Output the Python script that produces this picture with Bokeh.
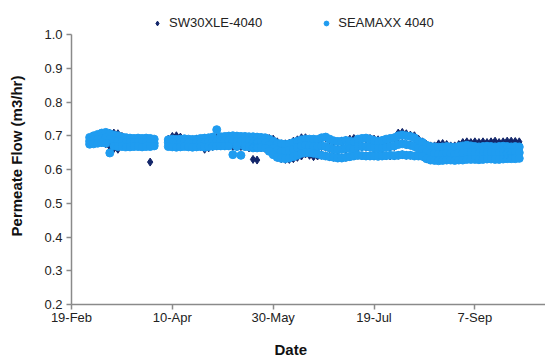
import pandas as pd
from bokeh.plotting import figure
from bokeh.models import (ColumnDataSource, FixedTicker, Legend, LegendItem,
                          NumeralTickFormatter, Range1d, Title)
from bokeh.embed import file_html
from bokeh.resources import INLINE

# ---------------- data ----------------
start_date = "2011-02-19"
# days after 19-Feb of each sampled reading
days = [9, 11, 13, 15, 17, 19, 21, 23, 25, 27, 29, 31, 33, 35, 37, 39, 41,
        48, 50, 52, 54, 56, 58, 60, 62, 64, 66, 68, 70, 72, 74, 76,
        78, 80, 82, 84, 86, 88, 90, 92, 94, 96, 98, 100, 102, 104, 106,
        108, 110, 112, 114, 116, 118, 120, 122, 124, 126, 128, 130, 132, 134, 136,
        138, 140, 142, 144, 146, 148, 150, 152, 154, 156, 158, 160, 162, 164, 166,
        168, 170, 172, 174, 176, 178, 180, 182, 184, 186, 188, 190, 192, 194, 196,
        198, 200, 202, 204, 206, 208, 210, 212, 214, 216, 218, 220, 222]

# SEAMAXX 4040: upper, middle and lower readings of each day
seamaxx_hi = [0.695, 0.700, 0.704, 0.708, 0.710, 0.706, 0.702, 0.700, 0.696, 0.694, 0.693, 0.692, 0.693, 0.692, 0.693, 0.692, 0.690,
              0.688, 0.690, 0.689, 0.690, 0.691, 0.690, 0.689, 0.690, 0.692, 0.693, 0.694, 0.696, 0.718, 0.697, 0.698,
              0.699, 0.700, 0.699, 0.698, 0.698, 0.697, 0.697, 0.696, 0.695, 0.694, 0.690, 0.684, 0.678, 0.676, 0.675,
              0.676, 0.680, 0.684, 0.688, 0.690, 0.690, 0.690, 0.689, 0.694, 0.696, 0.690, 0.685, 0.683, 0.684, 0.686,
              0.684, 0.682, 0.690, 0.692, 0.693, 0.690, 0.686, 0.684, 0.686, 0.690, 0.692, 0.694, 0.700, 0.702, 0.700,
              0.698, 0.694, 0.684, 0.680, 0.672, 0.668, 0.667, 0.666, 0.667, 0.668, 0.667, 0.666, 0.668, 0.670, 0.672,
              0.670, 0.668, 0.667, 0.668, 0.669, 0.668, 0.667, 0.668, 0.669, 0.668, 0.667, 0.668, 0.667]
seamaxx_mid = [0.684, 0.688, 0.690, 0.692, 0.694, 0.690, 0.686, 0.684, 0.682, 0.681, 0.680, 0.680, 0.681, 0.680, 0.680, 0.679, 0.678,
               0.680, 0.680, 0.678, 0.679, 0.680, 0.679, 0.678, 0.679, 0.680, 0.680, 0.682, 0.684, 0.684, 0.685, 0.686,
               0.686, 0.684, 0.684, 0.682, 0.682, 0.682, 0.681, 0.680, 0.680, 0.679, 0.672, 0.664, 0.656, 0.654, 0.654,
               0.656, 0.660, 0.665, 0.670, 0.672, 0.670, 0.668, 0.668, 0.670, 0.668, 0.664, 0.660, 0.658, 0.660, 0.662,
               0.662, 0.660, 0.668, 0.668, 0.668, 0.666, 0.664, 0.662, 0.664, 0.666, 0.668, 0.670, 0.674, 0.676, 0.674,
               0.672, 0.668, 0.662, 0.660, 0.652, 0.648, 0.647, 0.646, 0.646, 0.648, 0.647, 0.646, 0.648, 0.650, 0.652,
               0.650, 0.650, 0.648, 0.649, 0.650, 0.650, 0.649, 0.650, 0.650, 0.650, 0.650, 0.650, 0.650]
seamaxx_lo = [0.675, 0.676, 0.678, 0.680, 0.678, 0.649, 0.670, 0.668, 0.668, 0.667, 0.667, 0.668, 0.668, 0.667, 0.668, 0.668, 0.670,
              0.668, 0.667, 0.666, 0.667, 0.668, 0.667, 0.666, 0.667, 0.668, 0.666, 0.668, 0.669, 0.670, 0.670, 0.670,
              0.670, 0.644, 0.668, 0.642, 0.668, 0.667, 0.664, 0.664, 0.665, 0.664, 0.654, 0.644, 0.636, 0.633, 0.632,
              0.634, 0.638, 0.642, 0.648, 0.650, 0.650, 0.648, 0.646, 0.642, 0.640, 0.638, 0.636, 0.634, 0.634, 0.636,
              0.638, 0.640, 0.642, 0.641, 0.640, 0.640, 0.640, 0.639, 0.640, 0.641, 0.642, 0.641, 0.642, 0.644, 0.642,
              0.642, 0.640, 0.640, 0.639, 0.632, 0.628, 0.627, 0.626, 0.627, 0.628, 0.628, 0.627, 0.628, 0.628, 0.630,
              0.630, 0.630, 0.629, 0.630, 0.631, 0.631, 0.630, 0.630, 0.631, 0.632, 0.632, 0.632, 0.633]

# SW30XLE-4040: upper, middle and lower readings of each day
sw30_hi = [0.692, 0.698, 0.702, 0.706, 0.708, 0.707, 0.708, 0.706, 0.698, 0.692, 0.690, 0.690, 0.690, 0.690, 0.690, 0.690, 0.688,
           0.690, 0.698, 0.700, 0.696, 0.690, 0.688, 0.688, 0.689, 0.690, 0.692, 0.692, 0.694, 0.695, 0.696, 0.696,
           0.697, 0.698, 0.697, 0.696, 0.696, 0.695, 0.695, 0.694, 0.694, 0.693, 0.692, 0.690, 0.682, 0.676, 0.676,
           0.678, 0.684, 0.688, 0.694, 0.694, 0.688, 0.688, 0.688, 0.692, 0.694, 0.688, 0.684, 0.682, 0.684, 0.686,
           0.690, 0.692, 0.688, 0.690, 0.690, 0.692, 0.690, 0.688, 0.686, 0.688, 0.690, 0.694, 0.708, 0.710, 0.706,
           0.702, 0.700, 0.690, 0.682, 0.674, 0.670, 0.670, 0.676, 0.677, 0.674, 0.670, 0.670, 0.674, 0.680, 0.682,
           0.680, 0.682, 0.680, 0.682, 0.680, 0.682, 0.684, 0.680, 0.682, 0.684, 0.684, 0.683, 0.682]
sw30_mid = [0.684, 0.688, 0.690, 0.690, 0.688, 0.686, 0.684, 0.682, 0.680, 0.680, 0.680, 0.680, 0.680, 0.680, 0.680, 0.680, 0.680,
            0.680, 0.684, 0.684, 0.682, 0.680, 0.678, 0.678, 0.678, 0.678, 0.676, 0.680, 0.682, 0.684, 0.684, 0.684,
            0.684, 0.684, 0.682, 0.682, 0.682, 0.680, 0.680, 0.680, 0.680, 0.678, 0.675, 0.668, 0.660, 0.655, 0.654,
            0.656, 0.660, 0.664, 0.668, 0.670, 0.666, 0.664, 0.664, 0.668, 0.666, 0.662, 0.660, 0.658, 0.660, 0.660,
            0.664, 0.664, 0.666, 0.666, 0.666, 0.666, 0.664, 0.662, 0.664, 0.666, 0.666, 0.668, 0.676, 0.678, 0.674,
            0.672, 0.668, 0.664, 0.660, 0.652, 0.648, 0.648, 0.650, 0.650, 0.650, 0.648, 0.648, 0.650, 0.656, 0.658,
            0.656, 0.656, 0.655, 0.656, 0.656, 0.658, 0.658, 0.656, 0.658, 0.660, 0.660, 0.660, 0.658]
sw30_lo = [0.676, 0.678, 0.680, 0.680, 0.676, 0.668, 0.662, 0.660, 0.670, 0.670, 0.670, 0.670, 0.670, 0.670, 0.670, 0.622, 0.672,
           0.670, 0.670, 0.670, 0.670, 0.670, 0.670, 0.669, 0.670, 0.668, 0.660, 0.664, 0.668, 0.670, 0.670, 0.670,
           0.670, 0.668, 0.668, 0.668, 0.668, 0.664, 0.630, 0.628, 0.664, 0.662, 0.658, 0.646, 0.636, 0.632, 0.630,
           0.630, 0.632, 0.636, 0.640, 0.646, 0.642, 0.638, 0.640, 0.642, 0.640, 0.638, 0.636, 0.634, 0.634, 0.636,
           0.638, 0.640, 0.642, 0.640, 0.640, 0.640, 0.640, 0.640, 0.640, 0.640, 0.640, 0.640, 0.642, 0.644, 0.642,
           0.642, 0.640, 0.640, 0.638, 0.632, 0.628, 0.628, 0.628, 0.628, 0.628, 0.630, 0.630, 0.630, 0.632, 0.632,
           0.632, 0.632, 0.632, 0.632, 0.632, 0.634, 0.633, 0.632, 0.634, 0.636, 0.636, 0.636, 0.636]

y_ticks = [0.2, 0.3, 0.4, 0.5, 0.6, 0.7, 0.8, 0.9, 1.0]
x_tick_days = [0, 50, 100, 150, 200]
x_tick_labels = ["19-Feb", "10-Apr", "30-May", "19-Jul", "7-Sep"]
series_names = ["SW30XLE-4040", "SEAMAXX 4040"]
# --------------------------------------------------------------

base = pd.Timestamp(start_date)
dates = [base + pd.Timedelta(days=d) for d in days]


def long_source(hi, mid, lo):
    return ColumnDataSource(dict(x=dates * 3, y=list(hi) + list(mid) + list(lo)))


src_sw = long_source(sw30_hi, sw30_mid, sw30_lo)
src_sm = long_source(seamaxx_hi, seamaxx_mid, seamaxx_lo)

x_start = base
x_end = base + pd.Timedelta(days=235)

# frame extends a little above 1.0 so the legend can sit over the axis top;
# the y axis itself is bounded to 0.2 - 1.0
p = figure(width=545, height=361, x_axis_type="datetime",
           x_range=Range1d(x_start, x_end), y_range=Range1d(0.2, 1.08),
           output_backend="svg", toolbar_location=None,
           min_border_left=71, min_border_right=0, min_border_top=7,
           min_border_bottom=57)
p.outline_line_color = None
p.xgrid.visible = False
p.ygrid.visible = False
p.background_fill_color = "white"
p.border_fill_color = "white"

dark = "#13266a"
light = "#1f9cf0"

r_sw = p.scatter("x", "y", source=src_sw, marker="diamond", size=8,
                 fill_color=dark, line_color=dark)
r_sm = p.scatter("x", "y", source=src_sm, marker="circle", size=8,
                 fill_color=light, line_color=light)

font = "Liberation Sans"
axis_color = "#8a8a8a"
for ax in (p.xaxis[0], p.yaxis[0]):
    ax.axis_line_color = axis_color
    ax.axis_line_width = 1.5
    ax.major_tick_line_color = axis_color
    ax.major_tick_line_width = 1.5
    ax.major_tick_out = 5
    ax.major_tick_in = 0
    ax.minor_tick_line_color = None
    ax.major_label_text_font = font
    ax.major_label_text_font_size = "13px"
    ax.major_label_text_color = "#222222"

p.yaxis.bounds = (0.2, 1.0)
p.yaxis.ticker = FixedTicker(ticks=y_ticks)
p.yaxis.formatter = NumeralTickFormatter(format="0.0")
p.yaxis.major_label_standoff = 4
p.yaxis.axis_label = "Permeate Flow (m3/hr)"
p.yaxis.axis_label_text_font = font
p.yaxis.axis_label_text_font_style = "bold"
p.yaxis.axis_label_text_font_size = "15px"
p.yaxis.axis_label_text_color = "#111111"
p.yaxis.axis_label_standoff = 16

tick_ms = [(base + pd.Timedelta(days=d)).value / 1e6 for d in x_tick_days]
p.xaxis.ticker = FixedTicker(ticks=tick_ms)
p.xaxis.major_label_overrides = {t: lab for t, lab in zip(tick_ms, x_tick_labels)}
p.xaxis.major_label_standoff = 0
# tiny blank axis label used only as spacing between tick labels and title
p.xaxis.axis_label = " "
p.xaxis.axis_label_text_font_size = "5px"
p.xaxis.axis_label_standoff = 0

p.add_layout(Title(text="Date", align="left", offset=203,
                   text_font=font, text_font_style="bold",
                   text_font_size="15px", text_color="#111111",
                   standoff=4), "below")

legend = Legend(items=[LegendItem(label=series_names[0], renderers=[r_sw]),
                       LegendItem(label=series_names[1], renderers=[r_sm])],
                orientation="horizontal", location=(80, 274),
                glyph_width=12, glyph_height=12, label_height=12,
                label_standoff=6, spacing=58, padding=0, margin=0,
                border_line_color=None, background_fill_alpha=0,
                label_text_font=font, label_text_font_size="13px",
                label_text_color="#222222")
p.add_layout(legend, "center")

open("out.html", "w").write(file_html(p, INLINE))
